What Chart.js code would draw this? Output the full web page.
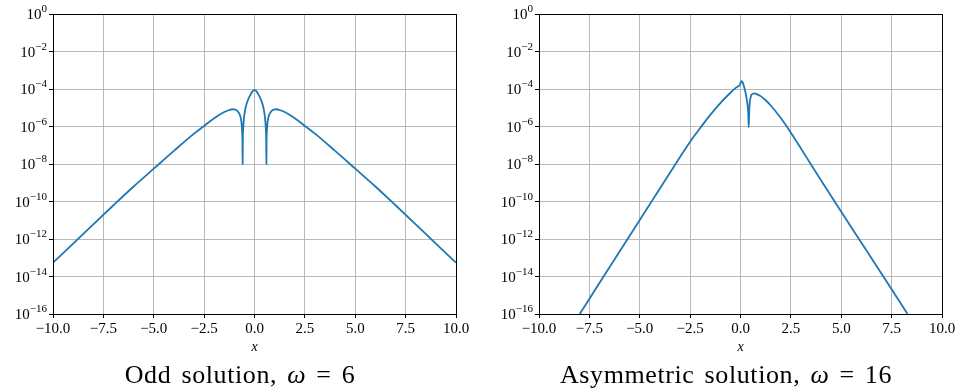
<!DOCTYPE html>
<html>
<head>
<meta charset="utf-8">
<script src="https://cdn.jsdelivr.net/npm/chart.js@4"></script>
<style>
  html, body { margin: 0; padding: 0; background: #fff; }
  #wrap { position: relative; width: 959px; height: 389px; overflow: hidden; font-family: "Liberation Serif", "DejaVu Serif", serif; }
  .panel { position: absolute; top: 0; height: 389px; }
  .caption { position: absolute; top: 360px; font-size: 26px; letter-spacing: 0.6px; word-spacing: 3px; color: #000; white-space: nowrap; transform: translateX(-50%); }
</style>
</head>
<body>
<div id="wrap">
  <div class="panel" style="left:0;width:480px"><canvas id="oddChart"></canvas></div>
  <div class="panel" style="left:480px;width:479px"><canvas id="asymChart"></canvas></div>
  <div class="caption" style="left:240px">Odd solution, <i>ω</i> = 6</div>
  <div class="caption" style="left:726px">Asymmetric solution, <i>ω</i> = 16</div>
</div>
<script>
// tick positions
const xTicks = [-10, -7.5, -5, -2.5, 0, 2.5, 5, 7.5, 10];
const yTickExps = [0, -2, -4, -6, -8, -10, -12, -14, -16];

// odd solution, omega = 6 : x and log10|u|
const oddX = [-10, -9, -8, -7, -6, -5, -4, -3, -2.5, -2, -1.5, -1.25, -1.1, -0.95, -0.85, -0.75, -0.68, -0.64, -0.62, -0.6,
              -0.59, -0.58, -0.56, -0.54, -0.5, -0.45, -0.38, -0.3, -0.2, -0.1, 0,
              0.1, 0.2, 0.3, 0.38, 0.45, 0.5, 0.54, 0.56, 0.58, 0.59,
              0.6, 0.62, 0.64, 0.68, 0.75, 0.85, 0.95, 1.1, 1.25, 1.5, 2, 2.5, 3, 4, 5, 6, 7, 8, 9, 10];
const oddLog = [-13.26, -12.25, -11.22, -10.2, -9.2, -8.25, -7.3, -6.38, -5.97, -5.56, -5.23, -5.12, -5.08, -5.1, -5.17, -5.32, -5.55, -5.85, -6.15, -6.7,
                -8.0, -6.7, -6.1, -5.75, -5.35, -5.03, -4.75, -4.52, -4.3, -4.13, -4.05,
                -4.13, -4.3, -4.52, -4.75, -5.03, -5.35, -5.75, -6.1, -6.7, -8.0,
                -6.7, -6.15, -5.85, -5.55, -5.32, -5.17, -5.1, -5.08, -5.12, -5.23, -5.56, -5.97, -6.38, -7.3, -8.25, -9.2, -10.2, -11.22, -12.25, -13.26];

// asymmetric solution, omega = 16
const asymX = [-7.98, -7, -6, -5, -4, -3, -2.5, -2, -1.5, -1, -0.5, -0.28, -0.1, -0.03, 0.02, 0.06, 0.1, 0.15, 0.25, 0.33, 0.38,
               0.41, 0.44, 0.48, 0.55, 0.67, 0.8, 1, 1.25, 1.5, 2, 2.5, 3, 3.5, 4, 5, 6, 7, 7.5, 8.29];
const asymLog = [-16, -14.35, -12.67, -10.99, -9.31, -7.63, -6.81, -6.08, -5.38, -4.75, -4.2, -3.98, -3.84, -3.78, -3.62, -3.58, -3.64, -3.77, -4.2, -4.7, -5.2,
                 -6.04, -5.0, -4.55, -4.3, -4.23, -4.27, -4.38, -4.6, -4.88, -5.55, -6.33, -7.17, -8.03, -8.88, -10.55, -12.2, -13.85, -14.68, -16];

const FONT = '"Liberation Serif", "DejaVu Serif", serif';
const GRID = '#b9b9b9';

const framePlugin = {
    id: 'frame',
    afterDraw(chart) {
        const { ctx, chartArea: a } = chart;
        const y = chart.scales.y;
        ctx.save();
        ctx.strokeStyle = '#000';
        ctx.lineWidth = 1;
        ctx.strokeRect(Math.round(a.left) + 0.5, Math.round(a.top) + 0.5, Math.round(a.right - a.left), Math.round(a.bottom - a.top));
        ctx.fillStyle = '#000';
        ctx.textBaseline = 'alphabetic';
        ctx.textAlign = 'left';
        yTickExps.forEach(e => {
            const py = y.getPixelForValue(Math.pow(10, e));
            const ex = e === 0 ? '0' : '\u2212' + (-e);
            ctx.font = '11px ' + FONT;
            const w2 = ctx.measureText(ex).width;
            ctx.font = '15px ' + FONT;
            const w1 = ctx.measureText('10').width;
            const xr = a.left - 6;
            ctx.fillText('10', xr - w1 - w2, py + 5);
            ctx.font = '11px ' + FONT;
            ctx.fillText(ex, xr - w2, py - 2);
        });
        ctx.restore();
    }
};

function makeChart(id, xs, logs, yWidth, padRight) {
    return new Chart(document.getElementById(id), {
        type: 'line',
        data: {
            datasets: [{
                data: xs.map((x, i) => ({ x, y: Math.pow(10, logs[i]) })),
                borderColor: '#1f77b4',
                borderWidth: 1.8,
                pointRadius: 0,
                cubicInterpolationMode: 'monotone',
                fill: false
            }]
        },
        options: {
            responsive: true,
            maintainAspectRatio: false,
            animation: false,
            devicePixelRatio: 1,
            layout: { padding: { left: 0, right: padRight, top: 14, bottom: 0 } },
            plugins: { legend: { display: false }, tooltip: { enabled: false } },
            scales: {
                x: {
                    type: 'linear', min: -10, max: 10,
                    afterBuildTicks: s => { s.ticks = xTicks.map(v => ({ value: v })); },
                    afterFit: s => { s.height = 75; },
                    ticks: {
                        autoSkip: false, maxRotation: 0, padding: 2, color: '#000',
                        font: { family: FONT, size: 15 },
                        callback: v => v.toFixed(1).replace('-', '\u2212')
                    },
                    grid: { color: GRID, lineWidth: 1, tickLength: 4, tickColor: '#000' },
                    border: { color: '#000', width: 1 },
                    title: { display: true, text: 'x', color: '#000', font: { family: FONT, size: 14, style: 'italic' }, padding: { top: 0, bottom: 33 } }
                },
                y: {
                    type: 'logarithmic', min: 1e-16, max: 1,
                    afterBuildTicks: s => { s.ticks = yTickExps.map(e => ({ value: Math.pow(10, e) })); },
                    afterFit: s => { s.width = yWidth; },
                    ticks: { display: false },
                    grid: { color: GRID, lineWidth: 1, tickLength: 4, tickColor: '#000' },
                    border: { color: '#000', width: 1 }
                }
            }
        },
        plugins: [framePlugin]
    });
}

makeChart('oddChart', oddX, oddLog, 53, 24);
makeChart('asymChart', asymX, asymLog, 59, 17);
</script>
</body>
</html>
